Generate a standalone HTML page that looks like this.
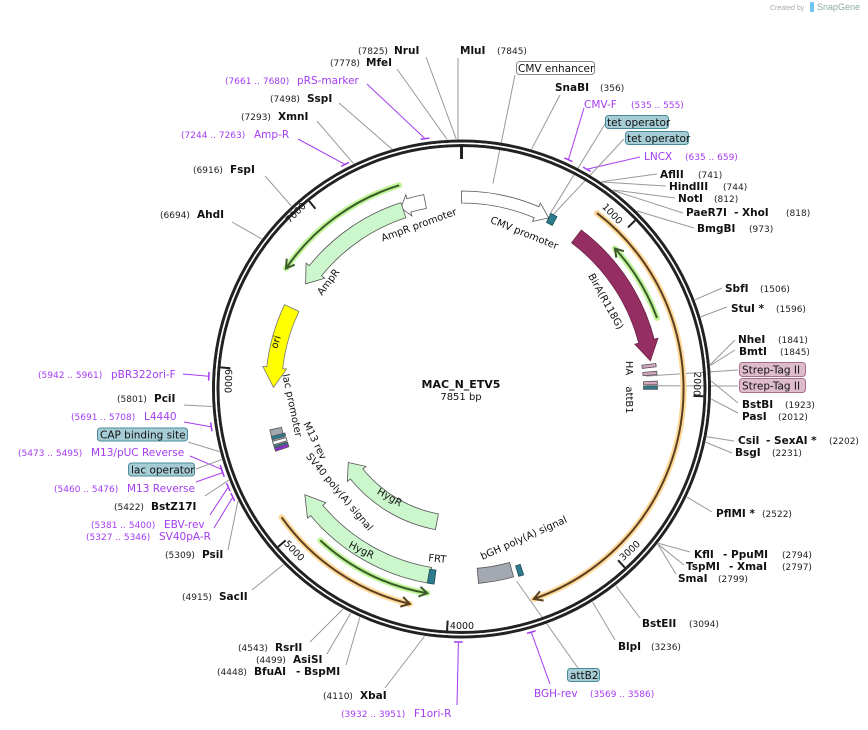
<!DOCTYPE html>
<html><head><meta charset="utf-8">
<style>
html,body{margin:0;padding:0;background:#fff;}
svg{display:block;}
.n{font-family:"DejaVu Sans","Liberation Sans",sans-serif;font-size:9px;fill:#222;}
.b{font-family:"DejaVu Sans","Liberation Sans",sans-serif;font-size:10.5px;font-weight:bold;fill:#111;}
.p{font-family:"DejaVu Sans","Liberation Sans",sans-serif;font-size:10.5px;fill:#a43cf0;}
.pn{font-family:"DejaVu Sans","Liberation Sans",sans-serif;font-size:9px;fill:#a43cf0;}
.f{font-family:"DejaVu Sans","Liberation Sans",sans-serif;font-size:10.5px;fill:#111;}
.g{font-family:"DejaVu Sans","Liberation Sans",sans-serif;font-size:10px;fill:#111;}
.t{font-family:"DejaVu Sans","Liberation Sans",sans-serif;font-size:9.5px;fill:#111;}
</style></head><body>
<svg id="s" width="868" height="730" viewBox="0 0 868 730" xmlns="http://www.w3.org/2000/svg">
<g id="lines"></g>
<g id="feat"></g>
<circle cx="461.5" cy="389" r="248" fill="none" stroke="#222" stroke-width="3"/>
<circle cx="461.5" cy="389" r="243.5" fill="none" stroke="#222" stroke-width="3"/>
<circle cx="461.5" cy="389" r="245.75" fill="none" stroke="#fff" stroke-width="1.5"/>
<g id="ticks"></g>

<text x="770" y="10" style="font-family:'Liberation Sans',sans-serif;font-size:7px;fill:#aaa">Created by</text>
<rect x="810" y="2" width="4" height="10" rx="1" fill="#6cc4f0"/>
<text x="817" y="10" style="font-family:'Liberation Sans',sans-serif;font-size:9px;fill:#8aa">SnapGene</text>

<text x="461" y="388" text-anchor="middle" style="font-family:'DejaVu Sans',sans-serif;font-size:11px;font-weight:bold;fill:#111">MAC_N_ETV5</text>
<text x="461" y="400" text-anchor="middle" style="font-family:'DejaVu Sans',sans-serif;font-size:10px;fill:#111">7851 bp</text>

<text class="t" transform="translate(610,216) rotate(46)" text-anchor="middle">1000</text>
<text class="t" transform="translate(694,384) rotate(92)" text-anchor="middle">2000</text>
<text class="t" transform="translate(632,553) rotate(-43)" text-anchor="middle">3000</text>
<text class="t" transform="translate(462,629)" text-anchor="middle">4000</text>
<text class="t" transform="translate(292,553) rotate(46)" text-anchor="middle">5000</text>
<text class="t" transform="translate(225,381) rotate(92)" text-anchor="middle">6000</text>
<text class="t" transform="translate(298,215) rotate(-45)" text-anchor="middle">7000</text>

<text class="g" transform="translate(523,236) rotate(22)" text-anchor="middle">CMV promoter</text>
<text class="g" transform="translate(420,228) rotate(-20)" text-anchor="middle">AmpR promoter</text>
<text class="g" transform="translate(331,284) rotate(-53)" text-anchor="middle">AmpR</text>
<text class="g" transform="translate(279,343) rotate(-72)" text-anchor="middle">ori</text>
<text class="g" transform="translate(603,303) rotate(61)" text-anchor="middle">BirA(R118G)</text>
<text class="g" transform="translate(626,368) rotate(90)" text-anchor="middle">HA</text>
<text class="g" transform="translate(626,400) rotate(90)" text-anchor="middle">attB1</text>
<text class="g" transform="translate(289,406) rotate(78)" text-anchor="middle">lac promoter</text>
<text class="g" transform="translate(312,442) rotate(64)" text-anchor="middle">M13 rev</text>
<text class="g" transform="translate(337,494) rotate(50)" text-anchor="middle">SV40 poly(A) signal</text>
<text class="g" transform="translate(388,500) rotate(30)" text-anchor="middle">HygR</text>
<text class="g" transform="translate(360,553) rotate(26)" text-anchor="middle">HygR</text>
<text class="g" transform="translate(437,562) rotate(6)" text-anchor="middle">FRT</text>
<text class="g" transform="translate(525,541) rotate(-24)" text-anchor="middle">bGH poly(A) signal</text>

<text class="n" x="358" y="54">(7825)</text><text class="b" x="394" y="54">NruI</text>
<text class="b" x="460" y="54">MluI</text><text class="n" x="497" y="54">(7845)</text>
<text class="n" x="330" y="66">(7778)</text><text class="b" x="366" y="66">MfeI</text>
<text class="pn" x="225" y="84">(7661 .. 7680)</text><text class="p" x="297" y="84">pRS-marker</text>
<text class="n" x="270" y="102">(7498)</text><text class="b" x="307" y="102">SspI</text>
<text class="n" x="241" y="120">(7293)</text><text class="b" x="278" y="120">XmnI</text>
<text class="pn" x="181" y="138">(7244 .. 7263)</text><text class="p" x="254" y="138">Amp-R</text>
<text class="n" x="193" y="173">(6916)</text><text class="b" x="230" y="173">FspI</text>
<text class="n" x="160" y="218">(6694)</text><text class="b" x="197" y="218">AhdI</text>
<text class="pn" x="38" y="378">(5942 .. 5961)</text><text class="p" x="111" y="378">pBR322ori-F</text>
<text class="n" x="117" y="402">(5801)</text><text class="b" x="154" y="402">PciI</text>
<text class="pn" x="71" y="420">(5691 .. 5708)</text><text class="p" x="144" y="420">L4440</text>
<rect x="97.5" y="428" width="90" height="13" rx="3" fill="#a6cdd6" stroke="#4a8a98"/>
<text class="f" x="100" y="438.5">CAP binding site</text>
<text class="pn" x="18" y="456">(5473 .. 5495)</text><text class="p" x="91" y="456">M13/pUC Reverse</text>
<rect x="128.5" y="463" width="66" height="13" rx="3" fill="#a6cdd6" stroke="#4a8a98"/>
<text class="f" x="131" y="473.5">lac operator</text>
<text class="pn" x="54" y="492">(5460 .. 5476)</text><text class="p" x="127" y="492">M13 Reverse</text>
<text class="n" x="114" y="510">(5422)</text><text class="b" x="151" y="510">BstZ17I</text>
<text class="pn" x="91" y="528">(5381 .. 5400)</text><text class="p" x="164" y="528">EBV-rev</text>
<text class="pn" x="86" y="540">(5327 .. 5346)</text><text class="p" x="159" y="540">SV40pA-R</text>
<text class="n" x="165" y="558">(5309)</text><text class="b" x="202" y="558">PsiI</text>
<text class="n" x="182" y="600">(4915)</text><text class="b" x="219" y="600">SacII</text>
<text class="n" x="238" y="651">(4543)</text><text class="b" x="275" y="651">RsrII</text>
<text class="n" x="256" y="663">(4499)</text><text class="b" x="293" y="663">AsiSI</text>
<text class="n" x="217" y="675">(4448)</text><text class="b" x="254" y="675">BfuAI</text><text class="b" x="296" y="675">- BspMI</text>
<text class="n" x="323" y="699">(4110)</text><text class="b" x="360" y="699">XbaI</text>
<text class="pn" x="341" y="717">(3932 .. 3951)</text><text class="p" x="414" y="717">F1ori-R</text>

<rect x="567.5" y="668.5" width="32" height="13" rx="3" fill="#a6cdd6" stroke="#4a8a98"/>
<text class="f" x="570" y="679">attB2</text>
<text class="p" x="534" y="697">BGH-rev</text><text class="pn" x="590" y="697">(3569 .. 3586)</text>
<text class="b" x="618" y="650">BlpI</text><text class="n" x="651" y="650">(3236)</text>
<text class="b" x="642" y="627">BstEII</text><text class="n" x="689" y="627">(3094)</text>
<text class="b" x="694" y="558">KflI</text><text class="b" x="723" y="558">- PpuMI</text><text class="n" x="782" y="558">(2794)</text>
<text class="b" x="686" y="570">TspMI</text><text class="b" x="729" y="570">- XmaI</text><text class="n" x="782" y="570">(2797)</text>
<text class="b" x="678" y="582">SmaI</text><text class="n" x="718" y="582">(2799)</text>
<text class="b" x="716" y="517">PflMI *</text><text class="n" x="762" y="517">(2522)</text>
<text class="b" x="738" y="444">CsiI</text><text class="b" x="766" y="444">- SexAI *</text><text class="n" x="829" y="444">(2202)</text>
<text class="b" x="735" y="456">BsgI</text><text class="n" x="772" y="456">(2231)</text>
<text class="b" x="742" y="408">BstBI</text><text class="n" x="785" y="408">(1923)</text>
<text class="b" x="742" y="420">PasI</text><text class="n" x="778" y="420">(2012)</text>
<rect x="739.5" y="362.5" width="66" height="14" rx="3" fill="#dfbccb" stroke="#a77088"/>
<text class="f" x="742" y="373.5">Strep-Tag II</text>
<rect x="739.5" y="378.5" width="66" height="14" rx="3" fill="#dfbccb" stroke="#a77088"/>
<text class="f" x="742" y="389.5">Strep-Tag II</text>
<text class="b" x="738" y="343">NheI</text><text class="n" x="778" y="343">(1841)</text>
<text class="b" x="739" y="355">BmtI</text><text class="n" x="780" y="355">(1845)</text>
<text class="b" x="731" y="312">StuI *</text><text class="n" x="776" y="312">(1596)</text>
<text class="b" x="725" y="292">SbfI</text><text class="n" x="760" y="292">(1506)</text>
<text class="b" x="697" y="232">BmgBI</text><text class="n" x="749" y="232">(973)</text>
<text class="b" x="686" y="216">PaeR7I</text><text class="b" x="734" y="216">- XhoI</text><text class="n" x="786" y="216">(818)</text>
<text class="b" x="678" y="202">NotI</text><text class="n" x="714" y="202">(812)</text>
<text class="b" x="669" y="190">HindIII</text><text class="n" x="723" y="190">(744)</text>
<text class="b" x="660" y="178">AflII</text><text class="n" x="698" y="178">(741)</text>
<text class="p" x="644" y="160">LNCX</text><text class="pn" x="685" y="160">(635 .. 659)</text>
<rect x="625.5" y="131.5" width="63" height="13" rx="3" fill="#a6cdd6" stroke="#4a8a98"/>
<text class="f" x="627" y="142">tet operator</text>
<rect x="605.5" y="115.5" width="63" height="13" rx="3" fill="#a6cdd6" stroke="#4a8a98"/>
<text class="f" x="607" y="126">tet operator</text>
<text class="p" x="584" y="108">CMV-F</text><text class="pn" x="631" y="108">(535 .. 555)</text>
<text class="b" x="555" y="91">SnaBI</text><text class="n" x="600" y="91">(356)</text>
<rect x="516.5" y="61.5" width="78" height="13" rx="3" fill="#fff" stroke="#888"/>
<text class="f" x="518" y="72">CMV enhancer</text>
</svg>
<script>
var NS="http://www.w3.org/2000/svg",cx=461.5,cy=389;
function P(r,a){a=a*Math.PI/180;return [cx+r*Math.sin(a),cy-r*Math.cos(a)];}
function el(g,t,at){var e=document.createElementNS(NS,t);for(var k in at)e.setAttribute(k,at[k]);document.getElementById(g).appendChild(e);return e;}
function f(p){return p[0].toFixed(1)+","+p[1].toFixed(1);}
function arc(r,a1,a2){var sw=a2>a1?1:0,lg=Math.abs(a2-a1)>180?1:0;return "A"+r+","+r+" 0 "+lg+","+sw+" "+f(P(r,a2));}
function arrow(r1,r2,a1,a2,h,fill,stroke,ex){ex=ex||4;var d=a2>a1?1:-1,b=a2-d*h,m=(r1+r2)/2;
 var s="M"+f(P(r2,a1))+arc(r2,a1,b)+"L"+f(P(r2+ex,b))+"L"+f(P(m,a2))+"L"+f(P(r1-ex,b))+"L"+f(P(r1,b))+arc(r1,b,a1)+"Z";
 el("feat","path",{d:s,fill:fill,stroke:stroke,"stroke-width":0.8});}
function box(r1,r2,a1,a2,fill,stroke){var s="M"+f(P(r2,a1))+arc(r2,a1,a2)+"L"+f(P(r1,a2))+arc(r1,a2,a1)+"Z";el("feat","path",{d:s,fill:fill,stroke:stroke||"#444","stroke-width":0.8});}
function lineArrow(r,a1,a2,halo,core){var s="M"+f(P(r,a1))+arc(r,a1,a2);
 el("feat","path",{d:s,fill:"none",stroke:halo,"stroke-width":6,"stroke-linecap":"round"});
 el("feat","path",{d:s,fill:"none",stroke:core,"stroke-width":2});
 var d=a2>a1?1:-1,b=a2-d*2.2;var t=P(r,a2),p1=P(r+5,b),p2=P(r-5,b);
 el("feat","path",{d:"M"+f(p1)+"L"+f(t)+"L"+f(p2),fill:"none",stroke:core,"stroke-width":2});}
function L(a,x,y,col,r0){var p=P(r0||250,a);el("lines","line",{x1:p[0],y1:p[1],x2:x,y2:y,stroke:col||"#999","stroke-width":1});}
function pr(a,x,y){L(a,x,y,"#a43cf0",253);el("lines","path",{d:"M"+f(P(253,a-1))+arc(253,a-1,a+1),fill:"none",stroke:"#a43cf0","stroke-width":1.5});}
L(358.8,426,57);el("lines","line",{x1:458,y1:58,x2:458,y2:141,stroke:"#bbb","stroke-width":1.5});
L(356.7,397,69);pr(351.7,367,84);L(343.8,339,103);L(334.4,317,121);pr(332.6,298,139);
L(317.1,265,176);L(306.9,232,222);pr(272.9,183,374);L(266,184,405);pr(261.4,184,422);
L(255.5,188,442);pr(251.5,190,456);L(253.6,196,469);pr(250.7,196,482);L(248.6,205,496);
pr(247.2,210,515);pr(244.7,214,528);L(243.4,228,550);L(225.4,252,590);L(208.3,310,642);
L(206.3,327,654);L(204,346,665);L(188.5,385,688);pr(180.7,457,705);
L(164,578,668,"#999",200);pr(164,550,684);L(148.4,615,640);L(141.9,640,618);
L(128.1,690,552);L(128.3,684,565);L(128.3,676,574);L(115.6,712,512);L(101,734,441);L(102.3,732,453);
L(88.2,738,403);L(92.3,738,413);L(84.4,735,340);L(84.6,735,350);
L(86,738,370,"#999",185);L(89,738,386,"#999",185);
L(73.2,727,307);L(69.1,722,288);L(44.6,694,228);L(37.5,683,213);L(37.2,675,198);L(34.1,666,186);L(34,657,174);
pr(29.7,640,157);L(27.6,624,139,"#999",195);L(26.8,605,124,"#999",195);pr(25,584,108);L(16.3,560,95);
L(8.7,515,75,"#999",208);
[1000,2000,3000,4000,5000,6000,7000].forEach(function(v){var a=v*360/7851;var p1=P(242,a),p2=P(232,a);el("ticks","line",{x1:p1[0],y1:p1[1],x2:p2[0],y2:p2[1],stroke:"#222","stroke-width":2});});
var tp1=P(242,0),tp2=P(230,0);el("ticks","line",{x1:tp1[0],y1:tp1[1],x2:tp2[0],y2:tp2[1],stroke:"#222","stroke-width":3});
lineArrow(222,37.6,161,"#ffd99a","#5a4020");
lineArrow(221,234.5,193.5,"#ffd99a","#5a4020");
lineArrow(208,70,47.5,"#c0f59a","#3d5a2a");
lineArrow(213,343,304.5,"#c0f59a","#3d5a2a");
lineArrow(207,223,189.5,"#c0f59a","#3d5a2a");
arrow(186,198,0,27,4,"#fff","#555");
arrow(184,198,349,341.5,2.5,"#fff","#555");
arrow(180,196,342,304,5,"#ccf7cc","#555");
arrow(180,196,295.5,270.5,6,"#ffff00","#777");
arrow(183,199,37,81.5,6,"#952e62","#6a1f45");
arrow(127,143,190.5,237,6,"#ccf7cc","#555");
arrow(181,197,189.5,236,6,"#ccf7cc","#555");
box(180,195,175,164.5,"#a4a8b1","#555");
box(184,196,258,252,"#a4a8b1","#555");
box(187,197,27,29,"#2d7c8c","#1c4d57");
box(183,197,188,190,"#2d7c8c","#1c4d57");
box(185,196,161.5,163,"#2d7c8c","#1c4d57");
[[83,"#d6a7c2"],[85.3,"#d6a7c2"],[88.2,"#d6a7c2"],[89.6,"#2d7c8c"]].forEach(function(q){box(182,196,q[0]-0.5,q[0]+0.5,q[1],"#555");});
[[255.5,"#2d7c8c"],[254,"#fff"],[252.6,"#2d7c8c"],[252,"#8a30d0"]].forEach(function(q){box(182,196,q[0]-0.5,q[0]+0.5,q[1],"#555");});
</script>
</body></html>
